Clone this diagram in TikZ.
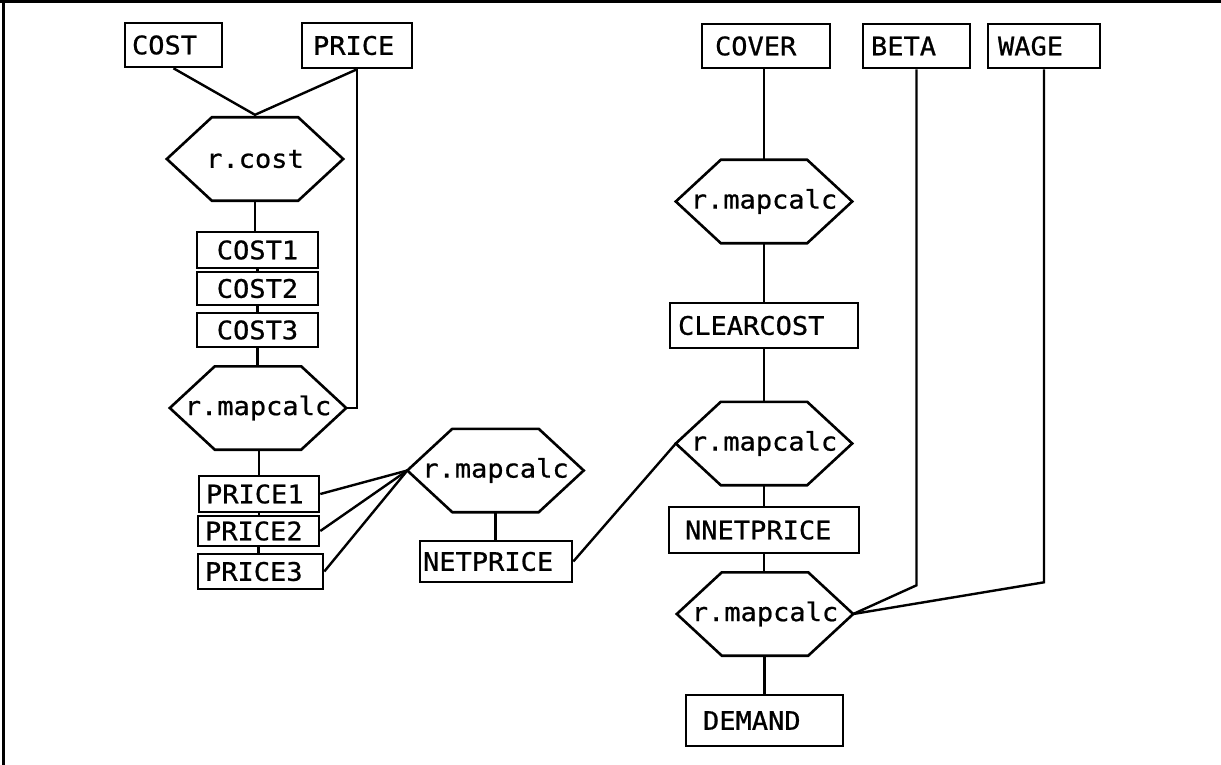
\documentclass[tikz,border=0pt]{standalone}
\usepackage{fontspec}
\newfontfamily\plotfont[FakeStretch=1.06,FakeBold=0.8]{DejaVu Sans Mono}
\begin{document}
\begin{tikzpicture}[x=1pt,y=-1pt,
  box/.style={draw, line width=2.6pt, inner ysep=0pt, align=left,
    font=\plotfont\fontsize{25.5}{30}\selectfont},
  hexa/.style={inner sep=0pt, minimum width=176pt, minimum height=83pt,
    font=\plotfont\fontsize{25.5}{30}\selectfont},
  hexline/.style={draw, line width=2.6pt, line join=miter},
  conn/.style={line width=2.4pt},
  frameline/.style={line width=3pt}]
\useasboundingbox (0,0) rectangle (1221,765);
\newcommand\hexdraw[1]{\draw[hexline] (#1.west) -- ([xshift=45pt]#1.north west) -- ([xshift=-45pt]#1.north east) -- (#1.east) -- ([xshift=-45pt]#1.south east) -- ([xshift=45pt]#1.south west) -- cycle;}
% frame (top and left edges only)
\draw[frameline] (0,1.5) -- (1221,1.5);
\draw[frameline] (3.5,0) -- (3.5,765);
% boxes
\node[box, text width=83pt, inner xsep=7pt, minimum height=44pt] (COST) at (173.5,45) {COST};
\node[box, text width=88pt, inner xsep=11pt, minimum height=45pt] (PRICE) at (357,45.5) {PRICE};
\node[box, text width=102pt, inner xsep=13pt, minimum height=44pt] (COVER) at (766,46) {COVER};
\node[box, text width=91pt, inner xsep=8pt, minimum height=44pt] (BETA) at (916.5,46) {BETA};
\node[box, text width=92pt, inner xsep=10pt, minimum height=44pt] (WAGE) at (1044,46) {WAGE};
\node[box, text width=105pt, inner xsep=8pt, align=center, minimum height=36pt] (COST1) at (257.5,250) {COST1};
\node[box, text width=105pt, inner xsep=8pt, align=center, minimum height=33pt] (COST2) at (257.5,288.5) {COST2};
\node[box, text width=105pt, inner xsep=8pt, align=center, minimum height=34pt] (COST3) at (257.5,330) {COST3};
\node[box, text width=106pt, inner xsep=7pt, minimum height=36pt] (PRICE1) at (259,494) {PRICE1};
\node[box, text width=107pt, inner xsep=7pt, minimum height=30pt] (PRICE2) at (258.5,531) {PRICE2};
\node[box, text width=111pt, inner xsep=7pt, minimum height=35pt] (PRICE3) at (260.5,571.5) {PRICE3};
\node[box, text width=146pt, inner xsep=3pt, minimum height=41pt] (NETPRICE) at (496,561.5) {NETPRICE};
\node[box, text width=172pt, inner xsep=8pt, minimum height=45pt] (CLEARCOST) at (764,325.5) {CLEARCOST};
\node[box, text width=158pt, inner xsep=16pt, minimum height=46pt] (NNETPRICE) at (764,530) {NNETPRICE};
\node[box, text width=123pt, inner xsep=17pt, minimum height=51pt] (DEMAND) at (764.5,720.5) {DEMAND};
% hexagons
\node[hexa] (hcost) at (255,159) {r.cost};
\node[hexa] (h1) at (258,408) {r.mapcalc};
\node[hexa] (h2) at (495.5,470.5) {r.mapcalc};
\node[hexa] (h3) at (764,201.5) {r.mapcalc};
\node[hexa] (h4) at (764,443.5) {r.mapcalc};
\node[hexa] (h5) at (765,614) {r.mapcalc};
\hexdraw{hcost}
\hexdraw{h1}
\hexdraw{h2}
\hexdraw{h3}
\hexdraw{h4}
\hexdraw{h5}
% connectors
\coordinate (j1) at ([yshift=2.5pt]hcost.north);
\path (BETA.south) ++(0,516) coordinate (bk);
\path (WAGE.south) ++(0,513) coordinate (wk);
\draw[conn] (COST.south) -- (j1) -- (PRICE.south);
\draw[conn] (PRICE.south) |- (h1.east);
\draw[conn] (hcost.south) -- (hcost.south |- COST1.north);
\draw[conn] (COST1.south) -- (COST1.south |- COST2.north);
\draw[conn] (COST2.south) -- (COST2.south |- COST3.north);
\draw[conn] (COST3.south) -- (COST3.south |- h1.north);
\draw[conn] (PRICE1.north) -- (PRICE1.north |- h1.south);
\draw[conn] (PRICE1.south) -- (PRICE1.south |- PRICE2.north);
\draw[conn] (PRICE2.south) -- (PRICE2.south |- PRICE3.north);
\draw[conn] (PRICE1.east) -- (h2.west);
\draw[conn] (PRICE2.east) -- (h2.west);
\draw[conn] (PRICE3.east) -- (h2.west);
\draw[conn] (h2.south) -- (h2.south |- NETPRICE.north);
\draw[conn] (NETPRICE.east) -- (h4.west);
\draw[conn] (h3.north) -- (h3.north |- COVER.south);
\draw[conn] (h3.south) -- (h3.south |- CLEARCOST.north);
\draw[conn] (CLEARCOST.south) -- (CLEARCOST.south |- h4.north);
\draw[conn] (h4.south) -- (h4.south |- NNETPRICE.north);
\draw[conn] (NNETPRICE.south) -- (NNETPRICE.south |- h5.north);
\draw[conn] (DEMAND.north) -- (DEMAND.north |- h5.south);
\draw[conn] (BETA.south) -- (bk) -- (h5.east);
\draw[conn] (WAGE.south) -- (wk) -- (h5.east);
\end{tikzpicture}
\end{document}
